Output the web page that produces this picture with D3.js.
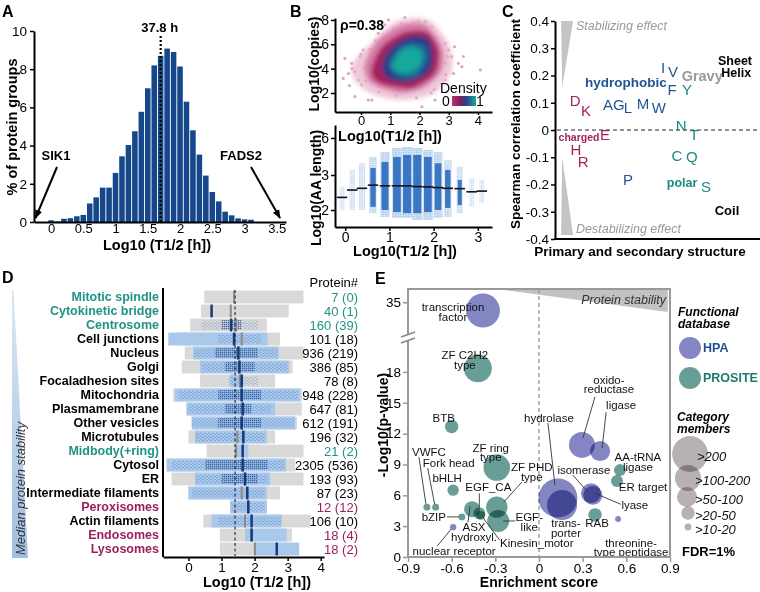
<!DOCTYPE html>
<html><head><meta charset="utf-8">
<script src="https://cdn.jsdelivr.net/npm/d3@7"></script>
<style>body{margin:0;background:#fff}svg{display:block}</style>
</head><body>
<svg id="c" width="760" height="592"></svg>
<script>
// ================= DATA =================
// Panel A: half-life histogram
const histBins = [0.0,0.1,0.2,0.3,0.4,0.5,0.6,0.7,0.8,0.9,1.0,1.1,1.2,1.3,1.4,1.5,1.6,1.7,1.8,1.9,2.0,2.1,2.2,2.3,2.4,2.5,2.6,2.7,2.8,2.9,3.0,3.1];
const histPct  = [0.09,0.03,0.17,0.2,0.3,0.37,0.97,1.29,1.8,1.8,2.57,3.44,4.03,4.75,5.77,7.0,8.2,8.7,9.08,8.9,8.14,6.3,4.8,3.53,2.43,1.57,1.08,0.54,0.35,0.19,0.14,0.12];
const histMedian = 1.7, histMedianLabel = "37.8 h";
const histXTicks = [0,0.5,1,1.5,2,2.5,3,3.5];
const histYTicks = [0,2,4,6,8,10];
const extremeNames = ["SIK1","FADS2"];
const extremeT = [-0.24,3.55];

// Panel B top: copies vs half-life, density contours + sparse outliers
const rhoLabel = "ρ=0.38";
const densityLegend = ["0","1"];
const densityContours = [
  [[-0.3,4.3],[0.3,6.0],[1.2,7.9],[2.3,8.0],[3.0,6.0],[3.1,3.8],[2.5,2.0],[1.4,1.4],[0.4,1.9],[-0.2,3.0]],
  [[0.14,4.5],[0.58,6.35],[1.4,7.6],[2.2,7.6],[2.77,5.8],[2.77,3.9],[2.2,2.5],[1.4,2.0],[0.58,2.5],[0.2,3.2]],
  [[0.37,4.1],[0.72,5.8],[1.5,7.0],[2.26,7.0],[2.65,5.5],[2.53,3.6],[1.74,2.4],[0.83,2.65],[0.42,3.2]],
  [[0.72,4.1],[0.94,5.5],[1.6,6.6],[2.26,6.5],[2.46,5.1],[2.3,3.7],[1.6,2.9],[0.94,3.2]],
  [[0.95,4.2],[1.2,5.5],[1.7,6.1],[2.2,5.8],[2.25,4.6],[1.9,3.4],[1.3,3.3]],
  [[1.06,4.3],[1.35,5.4],[1.7,5.8],[2.08,5.3],[2.0,4.2],[1.6,3.6],[1.2,3.8]]
];
const outlierT = [-0.61,-0.55,-0.32,-0.21,-0.03,0.02,0.08,-0.09,0.25,0.59,0.82,0.94,1.39,1.96,2.19,2.42,2.88,2.99,3.1,3.33,3.45,2.88,4.08,2.53,2.08,2.88,3.16,0.37,-0.21,-0.43,0.1,0.3,0.5,1.1,1.8,2.6,2.95,2.9,2.5,1.9,1.2,0.6,0.15,-0.3,3.2,0.0,1.5,2.4,3.5,-0.4];
const outlierC = [3.2,4.85,4.44,3.75,4.98,2.66,5.53,3.07,1.42,6.9,7.6,8.0,7.7,7.9,7.86,7.45,6.08,5.53,4.98,4.44,4.16,4.44,3.9,1.42,0.87,3.07,3.6,1.42,1.7,3.6,4.0,5.6,6.3,7.3,7.8,6.6,5.0,3.5,2.3,1.6,1.8,2.1,3.0,4.0,5.8,5.2,8.2,2.0,5.0,2.6];
const bTopXTicks = [0,1,2,3,4], bTopYTicks = [2,4,6,8];

// Panel B bottom: AA length per half-life bin
const stripT      = [-0.07,0.16,0.38,0.63,0.90,1.17,1.40,1.63,1.87,2.10,2.32,2.59,2.86,3.09];
const stripMin    = [2.0,2.0,2.0,1.91,1.80,1.77,1.77,1.71,1.71,1.77,1.80,1.91,2.09,2.20];
const stripMax    = [2.66,3.41,3.97,4.46,4.86,5.19,5.27,5.19,5.03,4.86,4.22,3.67,2.91,2.86];
const stripCoreLo = [null,null,null,2.09,2.0,1.94,1.91,1.91,1.94,2.0,2.06,2.14,null,null];
const stripCoreHi = [null,null,null,3.57,4.05,4.46,4.62,4.62,4.46,3.95,3.41,2.86,null,null];
const stripMedian = [2.36,2.57,2.62,2.71,2.69,2.69,2.69,2.67,2.66,2.64,2.62,2.61,2.52,2.54];
const stripDensity= [0.15,0.25,0.35,0.6,0.85,0.95,1,1,0.95,0.8,0.6,0.4,0.15,0.12];
const bBotXTicks = [0,1,2,3], bBotYTicks = [2,3,6];

// Panel C: Spearman correlations of sequence features
const featLabel = ["D","K","E","H","R","charged","A","G","L","M","W","I","V","F","P","hydrophobic","Y","N","T","C","Q","S","polar","Gravy","Sheet","Helix","Coil"];
const featGroup = ["charged","charged","charged","charged","charged","charged","hydrophobic","hydrophobic","hydrophobic","hydrophobic","hydrophobic","hydrophobic","hydrophobic","hydrophobic","hydrophobic","hydrophobic","polar","polar","polar","polar","polar","polar","polar","gravy","structure","structure","structure"];
const featPos   = [0.098,0.151,0.244,0.102,0.137,0.117,0.259,0.312,0.356,0.429,0.507,0.527,0.576,0.571,0.356,0.346,0.644,0.615,0.678,0.595,0.668,0.737,0.62,0.718,0.878,0.884,0.839];
const featRho   = [0.11,0.07,-0.015,-0.07,-0.117,-0.026,0.092,0.092,0.081,0.099,0.084,0.228,0.213,0.150,-0.183,0.176,0.150,0.015,-0.015,-0.092,-0.099,-0.209,-0.194,0.200,0.253,0.211,-0.294];
const cYTicks = [0.4,0.3,0.2,0.1,0,-0.1,-0.2,-0.3,-0.4];

// Panel D: subcellular compartments
const compNames = ["Mitotic spindle","Cytokinetic bridge","Centrosome","Cell junctions","Nucleus","Golgi","Focaladhesion sites","Mitochondria","Plasmamembrane","Other vesicles","Microtubules","Midbody(+ring)","Cytosol","ER","Intermediate filaments","Peroxisomes","Actin filaments","Endosomes","Lysosomes"];
const compGroup = ["mitotic","mitotic","mitotic","other","other","other","other","other","other","other","other","mitotic","other","other","other","vesicle","other","vesicle","vesicle"];
const compTotal = [7,40,160,101,936,386,78,948,647,612,196,21,2305,193,87,12,106,18,18];
const compSub   = [0,1,39,18,219,85,8,228,81,191,32,2,536,93,23,12,10,4,2];
const compAll   = [[0.48,3.48],[0.38,3.03],[0.05,2.37],[-0.3,2.77],[-0.11,3.48],[-0.2,3.15],[0.35,2.62],[-0.46,3.43],[-0.06,3.43],[0.1,3.28],[0,2.62],[0.55,3.48],[-0.66,3.23],[-0.51,3.48],[0,2.77],[1.26,2.37],[0.45,3.7],[0.95,3.13],[0.95,3.03]];
const compSubRange = [null,null,null,[-0.61,2.39],[0.15,2.72],[0.35,3.05],[1.26,1.66],[-0.41,3.38],[-0.06,2.62],[0.1,3.23],[0.2,2.37],[1.46,1.81],[-0.66,2.95],[0.2,2.47],[0,2.37],[1.26,2.37],[0.7,2.82],[1.71,2.97],[2.01,3.35]];
const compDots  = [null,null,[0.4,2.1],[0.9,2.2],[0.15,2.72],[0.4,3.0],[1.2,2.1],[-0.3,3.3],[0.0,2.5],[0.1,3.2],[0.2,2.3],null,[-0.5,2.9],[0.2,2.4],[0.1,2.3],[1.3,2.3],[0.9,2.8],null,null];
const compCore  = [null,null,[1.0,1.6],null,[0.8,2.1],[1.1,2.0],null,[0.9,2.2],[1.1,1.9],[0.9,2.2],null,null,[0.5,2.4],[1.0,2.1],null,null,null,null,null];
const compMedAll = [1.38,1.28,1.44,1.61,1.51,1.54,1.56,1.61,1.64,1.61,1.48,1.44,1.64,1.71,1.61,1.81,1.71,1.91,2.01];
const compMedSub = [null,0.70,1.29,1.38,1.51,1.54,1.61,1.61,1.64,1.61,1.66,1.64,1.64,1.71,1.78,1.81,1.91,1.91,2.67];
const overallMedian = 1.41;
const dXTicks = [0,1,2,3,4];

// Panel E: functional enrichment bubbles
const bubName = ["transcription factor","ZF C2H2 type","BTB","ZF ring type","ZF PHD type","EGF-like","ASX hydroxyl.","EGF_CA","Kinesin_motor","bZIP","VWFC","Fork head","bHLH","nuclear receptor","hydrolase","transporter","oxidoreductase","ligase","isomerase","lyase","AA-tRNA ligase","ER target","RAB","threonine-type peptidase"];
const bubDb    = ["HPA","PROSITE","PROSITE","PROSITE","PROSITE","PROSITE","PROSITE","PROSITE","PROSITE","PROSITE","PROSITE","PROSITE","PROSITE","HPA","HPA","HPA","HPA","HPA","HPA","HPA","PROSITE","PROSITE","PROSITE","HPA"];
const bubScore = [-0.385,-0.42,-0.60,-0.29,-0.29,-0.28,-0.46,-0.41,-0.40,-0.53,-0.77,-0.71,-0.59,-0.59,0.13,0.158,0.295,0.42,0.357,0.37,0.556,0.536,0.385,0.543];
const bubLogP  = [34.2,18.35,12.7,8.7,4.85,3.5,4.65,4.25,4.05,3.9,4.85,4.85,6.5,2.9,5.73,5.05,10.9,10.3,6.2,6.0,8.45,7.4,4.1,3.7];
const bubMembers=[289,196,45,177,114,121,64,36,20,12,12,12,32,10,380,225,169,100,100,90,36,36,45,9];
const eXTicks = [-0.9,-0.6,-0.3,0,0.3,0.6,0.9];
const eYTicks = [0,3,6,9,12,15,18,35];
const sizeLegendLabels = [">200",">100-200",">50-100",">20-50",">10-20"];
const sizeLegendValues = [320,170,100,45,12];

// ================= DRAWING =================
const F = '"Liberation Sans", Arial, Helvetica, sans-serif';
const svg = d3.select("#c").attr("font-family", F);
const defs = svg.append("defs");
defs.append("marker").attr("id","arr").attr("viewBox","0 0 10 10").attr("refX",9).attr("refY",5)
  .attr("markerWidth",9).attr("markerHeight",9).attr("markerUnits","userSpaceOnUse").attr("orient","auto")
  .append("path").attr("d","M0,1 L10,5 L0,9 z").attr("fill","#000");
defs.append("filter").attr("id","blur").attr("x","-20%").attr("y","-20%").attr("width","140%").attr("height","140%")
  .append("feGaussianBlur").attr("stdDeviation",2.2);
defs.append("filter").attr("id","soft").attr("x","-50%").attr("y","-10%").attr("width","200%").attr("height","120%")
  .append("feGaussianBlur").attr("stdDeviation",0.7);
const pd = defs.append("pattern").attr("id","bdots").attr("width",2.6).attr("height",2.2).attr("patternUnits","userSpaceOnUse");
pd.append("circle").attr("cx",0.8).attr("cy",0.8).attr("r",0.55).attr("fill","#4b88cf");
const pd2 = defs.append("pattern").attr("id","ddots").attr("width",4).attr("height",3).attr("patternUnits","userSpaceOnUse");
pd2.append("circle").attr("cx",1).attr("cy",1).attr("r",0.6).attr("fill","#1d4e9a");
pd2.append("circle").attr("cx",3).attr("cy",2.4).attr("r",0.5).attr("fill","#1d4e9a");
const pd3 = defs.append("pattern").attr("id","cdots").attr("width",2).attr("height",2).attr("patternUnits","userSpaceOnUse");
pd3.append("rect").attr("width",1.3).attr("height",1.3).attr("fill","#1a4690");
const cg = defs.append("linearGradient").attr("id","cbar");
[["0%","#c0306f"],["35%","#7a1f63"],["60%","#27468e"],["100%","#18ab9b"]].forEach(s=>cg.append("stop").attr("offset",s[0]).attr("stop-color",s[1]));
const wg = defs.append("linearGradient").attr("id","dwedge").attr("x1","0").attr("y1","0").attr("x2","0").attr("y2","1");
wg.append("stop").attr("offset","0%").attr("stop-color","#dbe7f3");
wg.append("stop").attr("offset","100%").attr("stop-color","#9fbfe0");

function T(sel, x, y, s, o = {}) {
  const t = sel.append("text").attr("x", x).attr("y", y).text(s)
    .attr("font-size", o.size || 13).attr("fill", o.fill || "#000")
    .attr("text-anchor", o.anchor || "start");
  if (o.bold) t.attr("font-weight", "bold");
  if (o.italic) t.attr("font-style", "italic");
  if (o.base) t.attr("dominant-baseline", o.base);
  if (o.rot) t.attr("transform", `rotate(${o.rot},${x},${y})`);
  return t;
}
function styleAxis(g, size, sw) {
  g.attr("font-size", size).attr("font-family", F);
  g.select(".domain").attr("stroke-width", sw || 2).attr("stroke", "#000");
  g.selectAll(".tick line").attr("stroke-width", 1.5);
  g.selectAll(".tick text").attr("fill", "#000");
}
const fmt = d => String(d);

// ---------- Panel A ----------
{
  const g = svg.append("g");
  const x = d3.scaleLinear().domain([-0.264, 3.643]).range([34, 286]);
  const y = d3.scaleLinear().domain([0, 10]).range([222, 31]);
  const bw = x(0.086) - x(0);
  g.selectAll("rect").data(histBins).join("rect")
    .attr("x", d => x(d) - bw / 2).attr("width", bw)
    .attr("y", (d, i) => y(histPct[i])).attr("height", (d, i) => y(0) - y(histPct[i]))
    .attr("fill", "#16478b");
  const ay = g.append("g").attr("transform", "translate(34,0)")
    .call(d3.axisLeft(y).tickValues(histYTicks).tickFormat(fmt).tickSize(4).tickSizeOuter(0).tickPadding(3));
  styleAxis(ay, 13.5);
  const ax = g.append("g").attr("transform", "translate(0,222)")
    .call(d3.axisBottom(x).tickValues(histXTicks).tickFormat(fmt).tickSize(0).tickSizeOuter(0).tickPadding(2));
  styleAxis(ax, 13);
  g.append("line").attr("x1", x(histMedian)).attr("x2", x(histMedian)).attr("y1", 36).attr("y2", 222)
    .attr("stroke", "#000").attr("stroke-width", 2.2).attr("stroke-dasharray", "2,2");
  T(g, x(histMedian) - 1, 32, histMedianLabel, {size: 13, bold: true, anchor: "middle"});
  T(g, 17, 127, "% of protein groups", {size: 14.5, bold: true, anchor: "middle", rot: -90});
  T(g, 157, 250, "Log10 (T1/2 [h])", {size: 14.5, bold: true, anchor: "middle"});
  const lab = [[56, 160, 57, 167], [241, 160, 251, 167]];
  extremeNames.forEach((n, i) => {
    T(g, lab[i][0], lab[i][1], n, {size: 13, bold: true, anchor: "middle"});
    g.append("line").attr("x1", lab[i][2]).attr("y1", lab[i][3])
      .attr("x2", x(extremeT[i])).attr("y2", y(0) - 4)
      .attr("stroke", "#000").attr("stroke-width", 2).attr("marker-end", "url(#arr)");
  });
  T(g, 2, 17, "A", {size: 16, bold: true});
}

// ---------- Panel B top ----------
{
  const g = svg.append("g");
  const x = d3.scaleLinear().domain([-0.89, 4.48]).range([335, 492]);
  const y = d3.scaleLinear().domain([0.44, 8.16]).range([112, 18]);
  const colors = ["#eab4cd", "#d77aa5", "#a3205f", "#2a3b86", "#1f6f98", "#19a89b"];
  g.selectAll("circle.o").data(outlierT).join("circle")
    .attr("cx", d => x(d)).attr("cy", (d, i) => y(outlierC[i])).attr("r", 1.6)
    .attr("fill", "#dd8cb2").attr("opacity", 0.8);
  const blob = g.append("g").attr("filter", "url(#blur)");
  const line = d3.line().x(d => x(d[0])).y(d => y(d[1])).curve(d3.curveCardinalClosed.tension(0.2));
  blob.selectAll("path").data(densityContours).join("path")
    .attr("d", d => line(d)).attr("fill", (d, i) => colors[i]).attr("opacity", (d, i) => i === 0 ? 0.75 : 1);
  const ay = g.append("g").attr("transform", "translate(335,0)")
    .call(d3.axisLeft(y).tickValues(bTopYTicks).tickFormat(fmt).tickSize(4).tickSizeOuter(0).tickPadding(2));
  styleAxis(ay, 14);
  const ax = g.append("g").attr("transform", "translate(0,112)")
    .call(d3.axisBottom(x).tickValues(bTopXTicks).tickFormat(fmt).tickSize(3).tickSizeOuter(0).tickPadding(1));
  styleAxis(ax, 13);
  T(g, 340, 30, rhoLabel, {size: 14, bold: true});
  T(g, 440, 93, "Density", {size: 14});
  g.append("rect").attr("x", 452).attr("y", 96).attr("width", 24).attr("height", 10).attr("fill", "url(#cbar)");
  T(g, 442, 106, densityLegend[0], {size: 14});
  T(g, 476, 106, densityLegend[1], {size: 14});
  T(g, 319, 64, "Log10(copies)", {size: 14, bold: true, anchor: "middle", rot: -90});
  T(g, 390, 141, "Log10(T1/2 [h])", {size: 14.5, bold: true, anchor: "middle"});
  T(g, 290, 17, "B", {size: 16, bold: true});
}

// ---------- Panel B bottom ----------
{
  const g = svg.append("g");
  const x = d3.scaleLinear().domain([-0.23, 3.32]).range([335, 492]);
  const y = d3.scaleLinear().domain([1.51, 2, 3, 7.05]).range([227, 210, 175, 125]);
  const sg = g.append("g").attr("filter", "url(#soft)");
  stripT.forEach((t, i) => {
    const w = 4 + 6 * stripDensity[i];
    sg.append("rect").attr("x", x(t) - w / 2).attr("width", w)
      .attr("y", y(stripMax[i])).attr("height", y(stripMin[i]) - y(stripMax[i]))
      .attr("fill", "#b5d0ef").attr("opacity", 0.2 + 0.4 * stripDensity[i]);
    sg.append("rect").attr("x", x(t) - w / 2).attr("width", w)
      .attr("y", y(stripMax[i])).attr("height", y(stripMin[i]) - y(stripMax[i]))
      .attr("fill", "url(#bdots)").attr("opacity", 0.4 + 0.4 * stripDensity[i]);
    if (stripCoreLo[i] !== null) {
      const cw = 1.5 + 6.5 * stripDensity[i];
      sg.append("rect").attr("x", x(t) - cw / 2).attr("width", cw)
        .attr("y", y(stripCoreHi[i])).attr("height", y(stripCoreLo[i]) - y(stripCoreHi[i]))
        .attr("fill", "#2c6cbf").attr("opacity", 0.9);
    }
  });
  g.selectAll("line.m").data(stripT).join("line")
    .attr("x1", d => x(d - 0.118)).attr("x2", d => x(d + 0.118))
    .attr("y1", (d, i) => y(stripMedian[i])).attr("y2", (d, i) => y(stripMedian[i]))
    .attr("stroke", "#111").attr("stroke-width", 1.6);
  const ay = g.append("g").attr("transform", "translate(335,0)")
    .call(d3.axisLeft(y).tickValues(bBotYTicks).tickFormat(fmt).tickSize(4).tickSizeOuter(0).tickPadding(2));
  styleAxis(ay, 14);
  const ax = g.append("g").attr("transform", "translate(0,227)")
    .call(d3.axisBottom(x).tickValues(bBotXTicks).tickFormat(fmt).tickSize(4).tickSizeOuter(0).tickPadding(1));
  styleAxis(ax, 14);
  T(g, 321, 188, "Log10(AA length)", {size: 14, bold: true, anchor: "middle", rot: -90});
  T(g, 405, 256, "Log10(T1/2 [h])", {size: 14.5, bold: true, anchor: "middle"});
}

// ---------- Panel C ----------
{
  const g = svg.append("g");
  const x = d3.scaleLinear().domain([0, 1]).range([555, 760]);
  const y = d3.scaleLinear().domain([-0.4, 0.4]).range([239, 21]);
  g.append("path").attr("d", `M${x(0.03)},${y(0.4)}L${x(0.088)},${y(0.4)}L${x(0.035)},${y(0.158)}Z`).attr("fill", "#c4c4c4");
  g.append("path").attr("d", `M${x(0.035)},${y(-0.1)}L${x(0.088)},${y(-0.385)}L${x(0.03)},${y(-0.385)}Z`).attr("fill", "#c4c4c4");
  T(g, 576, 30, "Stabilizing effect", {size: 12.5, italic: true, fill: "#9a9a9a"});
  T(g, 576, 233, "Destabilizing effect", {size: 12.5, italic: true, fill: "#9a9a9a"});
  g.append("line").attr("x1", 557).attr("x2", 760).attr("y1", y(0)).attr("y2", y(0))
    .attr("stroke", "#222").attr("stroke-width", 1).attr("stroke-dasharray", "4,3");
  const ay = g.append("g").attr("transform", "translate(555,0)")
    .call(d3.axisLeft(y).tickValues(cYTicks).tickFormat(fmt).tickSize(4).tickSizeOuter(0).tickPadding(2));
  styleAxis(ay, 13.5);
  g.append("line").attr("x1", 554).attr("x2", 760).attr("y1", 239).attr("y2", 239).attr("stroke", "#000").attr("stroke-width", 2);
  const col = {charged: "#a3235f", hydrophobic: "#1f5593", polar: "#1b8a80", gravy: "#9a9a9a", structure: "#000"};
  const boldSize = {charged: 10.5, hydrophobic: 13.5, polar: 12.5, Gravy: 14.5, Sheet: 12.5, Helix: 12.5, Coil: 13};
  featLabel.forEach((l, i) => {
    const isWord = l.length > 1;
    T(g, x(featPos[i]), y(featRho[i]), l, {
      size: isWord ? boldSize[l] : 15, bold: isWord, anchor: "middle", base: "central",
      fill: col[featGroup[i]]
    });
  });
  T(g, 520, 124, "Spearman correlation coefficient", {size: 13.5, bold: true, anchor: "middle", rot: -90});
  T(g, 640, 256, "Primary and secondary structure", {size: 13.5, bold: true, anchor: "middle"});
  T(g, 502, 17, "C", {size: 16, bold: true});
}

// ---------- Panel D ----------
{
  const g = svg.append("g");
  const x = d3.scaleLinear().domain([-0.77, 4.1]).range([163, 324]);
  const y = d3.scaleBand().domain(compNames).range([290, 556]).paddingInner(0.08).paddingOuter(0.04);
  const bh = y.bandwidth();
  const gc = {mitotic: "#1f9486", other: "#000", vesicle: "#9c1f5b"};
  g.append("path").attr("d", "M12,290 L13.5,290 L28,558 L12,558 Z").attr("fill", "url(#dwedge)");
  T(g, 25, 555, "Median protein stability", {size: 13, italic: true, fill: "#333", rot: -90});
  compNames.forEach((n, i) => {
    const yy = y(n);
    const r = compAll[i];
    g.append("rect").attr("x", x(r[0])).attr("width", x(r[1]) - x(r[0])).attr("y", yy).attr("height", bh).attr("fill", "#d9d9d9");
    if (compSubRange[i]) {
      const s = compSubRange[i];
      g.append("rect").attr("x", x(s[0])).attr("width", x(s[1]) - x(s[0])).attr("y", yy).attr("height", bh).attr("fill", "#a8c8ec");
    }
    if (compDots[i]) {
      const s = compDots[i];
      g.append("rect").attr("x", x(s[0])).attr("width", x(s[1]) - x(s[0])).attr("y", yy + 2).attr("height", bh - 4).attr("fill", "url(#ddots)").attr("opacity", 0.7);
    }
    if (compCore[i]) {
      const s = compCore[i];
      g.append("rect").attr("x", x(s[0])).attr("width", x(s[1]) - x(s[0])).attr("y", yy + 1.5).attr("height", bh - 3).attr("fill", "url(#cdots)").attr("opacity", 0.75);
    }
    g.append("line").attr("x1", x(compMedAll[i])).attr("x2", x(compMedAll[i])).attr("y1", yy).attr("y2", yy + bh).attr("stroke", "#8a8a8a").attr("stroke-width", 2);
    if (compMedSub[i] !== null) {
      g.append("line").attr("x1", x(compMedSub[i])).attr("x2", x(compMedSub[i])).attr("y1", yy).attr("y2", yy + bh).attr("stroke", "#143a7a").attr("stroke-width", 2.5);
    }
    T(g, 159, yy + bh / 2, n, {size: 12.5, bold: true, anchor: "end", base: "central", fill: gc[compGroup[i]]});
    T(g, 358, yy + bh / 2, `${compTotal[i]} (${compSub[i]})`, {size: 13, anchor: "end", base: "central", fill: gc[compGroup[i]]});
  });
  g.append("line").attr("x1", x(overallMedian)).attr("x2", x(overallMedian)).attr("y1", 290).attr("y2", 556)
    .attr("stroke", "#333").attr("stroke-width", 1.2).attr("stroke-dasharray", "3,2.5");
  g.append("line").attr("x1", 163).attr("x2", 163).attr("y1", 288).attr("y2", 557).attr("stroke", "#000").attr("stroke-width", 2);
  const ax = g.append("g").attr("transform", "translate(0,557)")
    .call(d3.axisBottom(x).tickValues(dXTicks).tickFormat(fmt).tickSize(4).tickSizeOuter(0).tickPadding(1));
  styleAxis(ax, 13.5);
  T(g, 358, 287, "Protein#", {size: 13, anchor: "end"});
  T(g, 257, 587, "Log10 (T1/2 [h])", {size: 14.5, bold: true, anchor: "middle"});
  T(g, 2, 283, "D", {size: 16, bold: true});
}

// ---------- Panel E ----------
{
  const g = svg.append("g");
  const x = d3.scaleLinear().domain([-0.9, 0.9]).range([408, 670]);
  const y = d3.scaleLinear().domain([0, 21.3, 31.5, 36.3]).range([557, 338, 338, 289]);
  const r = d3.scaleSqrt().domain([0, 400]).range([0, 20]);
  const dbColor = {HPA: "#8386c2", PROSITE: "#689e96"};
  g.append("path").attr("d", `M${x(-0.29)},289 L${x(0.885)},289 L${x(0.885)},312 Z`).attr("fill", "#c2c2c2");
  T(g, 666, 304, "Protein stability", {size: 12.5, italic: true, anchor: "end", fill: "#333"});
  g.append("line").attr("x1", x(0)).attr("x2", x(0)).attr("y1", 289).attr("y2", 557)
    .attr("stroke", "#8a8a8a").attr("stroke-width", 1.2).attr("stroke-dasharray", "4,3");
  const bubbles = bubName.map((n, i) => ({n, db: bubDb[i], s: bubScore[i], p: bubLogP[i], m: bubMembers[i]}));
  g.selectAll("circle.b").data(bubbles).join("circle")
    .attr("cx", d => x(d.s)).attr("cy", d => y(d.p)).attr("r", d => r(d.m))
    .attr("fill", d => dbColor[d.db]).style("mix-blend-mode", "multiply");
  const lay = {
    "transcription factor": [["transcription", "factor"], -30, -3, null],
    "ZF C2H2 type": [["ZF C2H2", "type"], -13, -13, null],
    "BTB": [["BTB"], -8, -8, null],
    "ZF ring type": [["ZF ring", "type"], -6, -20, null],
    "ZF PHD type": [["ZF PHD", "type"], 35, -40, [25, -25, 7, -5]],
    "EGF-like": [["EGF-", "like"], 31, -4, [17, 0, 5, 0]],
    "ASX hydroxyl.": [["ASX", "hydroxyl."], 2, 18, [-4, 13, -2, -3]],
    "EGF_CA": [["EGF_CA"], 9, -26, [0, -20, 0, -6]],
    "Kinesin_motor": [["Kinesin_motor"], 56, 28, [19, 25, 2, 2]],
    "bZIP": [["bZIP"], -28, 0, [-15, 0, -3, 0]],
    "VWFC": [["VWFC"], 2, -55, [-8, -50, -1, -3]],
    "Fork head": [["Fork head"], 13, -44, [-8, -39, -1, -3]],
    "bHLH": [["bHLH"], -6, -12, null],
    "nuclear receptor": [["nuclear receptor"], 1, 24, [-16, 19, -2, 2]],
    "hydrolase": [["hydrolase"], -9, -80, [-10, -75, -3, -13]],
    "transporter": [["trans-", "porter"], 4, 18, null],
    "oxidoreductase": [["oxido-", "reductase"], 27, -65, [13, -48, 1, -7]],
    "ligase": [["ligase"], 21, -46, [6, -39, 2, -3]],
    "isomerase": [["isomerase"], -7, -23, [-18, -18, -3, -1]],
    "lyase": [["lyase"], 42, 10, [28, 9, 2, -2]],
    "AA-tRNA ligase": [["AA-tRNA", "ligase"], 18, -13, null],
    "ER target": [["ER target"], 26, 6, null],
    "RAB": [["RAB"], 2, 8, null],
    "threonine-type peptidase": [["threonine-", "type peptidase"], 13, 24, null]
  };
  bubbles.forEach(d => {
    const L = lay[d.n]; if (!L) return;
    const cx = x(d.s), cy = y(d.p);
    if (L[3]) g.append("line").attr("x1", cx + L[3][0]).attr("y1", cy + L[3][1]).attr("x2", cx + L[3][2]).attr("y2", cy + L[3][3])
      .attr("stroke", "#333").attr("stroke-width", 0.9);
    L[0].forEach((s, k) => T(g, cx + L[1], cy + L[2] + k * 9.5, s, {size: 11.5, anchor: "middle", base: "central", fill: "#111"}));
  });
  g.append("rect").attr("x", 408).attr("y", 289).attr("width", 262).attr("height", 268)
    .attr("fill", "none").attr("stroke", "#999").attr("stroke-width", 2);
  const ay = g.append("g").attr("transform", "translate(407,0)")
    .call(d3.axisLeft(y).tickValues(eYTicks).tickFormat(fmt).tickSize(4).tickSizeOuter(0).tickPadding(2));
  styleAxis(ay, 13.5);
  ay.select(".domain").remove();
  ay.selectAll(".tick line").attr("stroke", "#999");
  const ax = g.append("g").attr("transform", "translate(0,558)")
    .call(d3.axisBottom(x).tickValues(eXTicks).tickFormat(fmt).tickSize(4).tickSizeOuter(0).tickPadding(1));
  styleAxis(ax, 13.5);
  ax.select(".domain").remove();
  ax.selectAll(".tick line").attr("stroke", "#999");
  g.append("rect").attr("x", 403).attr("y", 335).attr("width", 10).attr("height", 6).attr("fill", "#fff");
  [333, 339].forEach(v => g.append("line").attr("x1", 401).attr("x2", 415).attr("y1", v + 4).attr("y2", v - 1).attr("stroke", "#888").attr("stroke-width", 1.5));
  T(g, 388, 425, "-Log10(p-value)", {size: 14, bold: true, anchor: "middle", rot: -90});
  T(g, 539, 587, "Enrichment score", {size: 14, bold: true, anchor: "middle"});
  T(g, 678, 316, "Functional", {size: 12, bold: true, italic: true});
  T(g, 678, 328, "database", {size: 12, bold: true, italic: true});
  [["HPA", 348, "#1f4e96"], ["PROSITE", 378, "#1b7a70"]].forEach(a => {
    g.append("circle").attr("cx", 690).attr("cy", a[1]).attr("r", 11).attr("fill", dbColor[a[0]]);
    T(g, 703, a[1], a[0], {size: 12.5, bold: true, base: "central", fill: a[2]});
  });
  T(g, 677, 421, "Category", {size: 12, bold: true, italic: true});
  T(g, 677, 433, "members", {size: 12, bold: true, italic: true});
  const ly = [454, 478, 497, 513, 527], lx = [690, 688, 687, 688, 688], tx = [697, 695, 695, 695, 695];
  sizeLegendValues.forEach((v, i) => {
    g.append("circle").attr("cx", lx[i]).attr("cy", ly[i]).attr("r", r(v)).attr("fill", "#b8b1b1").style("mix-blend-mode", "multiply");
  });
  sizeLegendLabels.forEach((s, i) => T(g, tx[i], ly[i] + 2, s, {size: 13, italic: true, base: "central", fill: "#111"}));
  T(g, 682, 556, "FDR=1%", {size: 13, bold: true});
  T(g, 375, 284, "E", {size: 16, bold: true});
}
</script>
</body></html>
